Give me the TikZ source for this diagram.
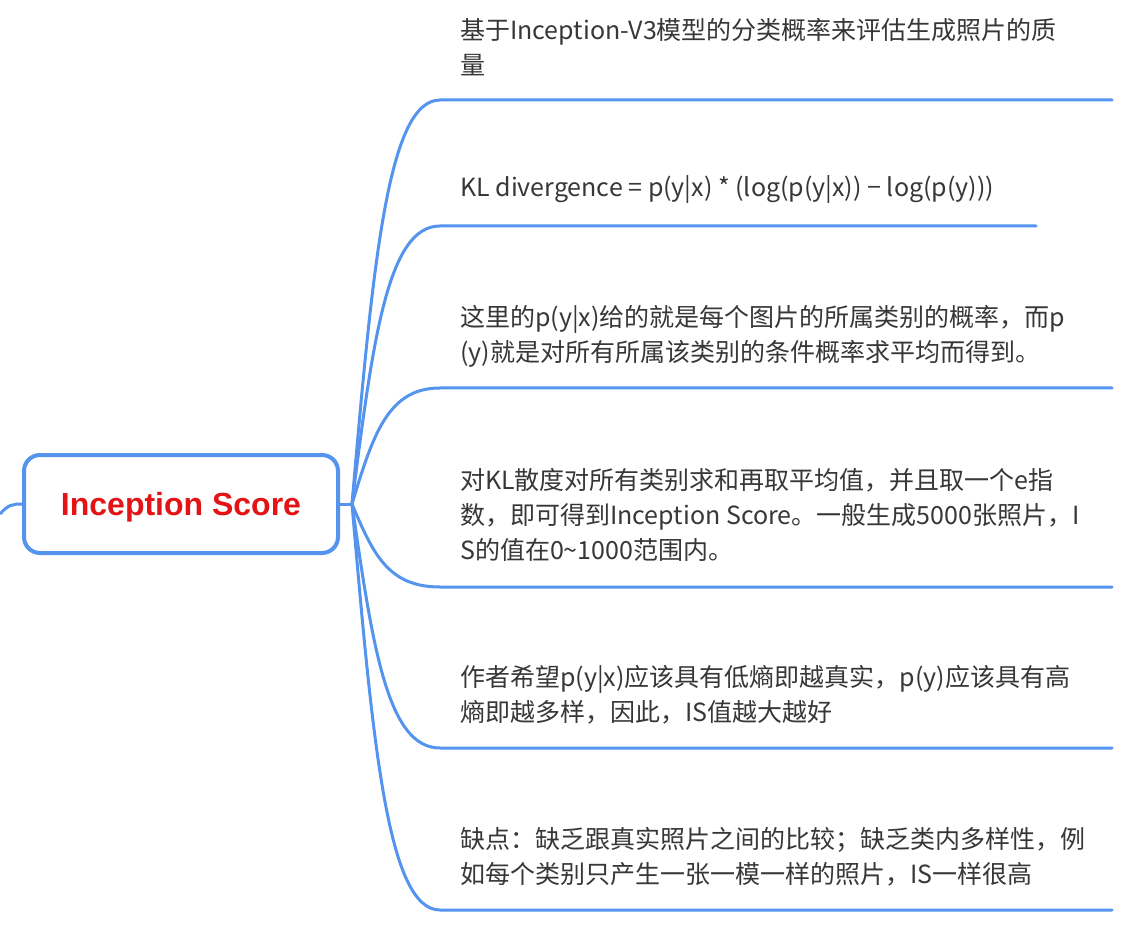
\documentclass[tikz,border=0pt]{standalone}
\usepackage{fontspec}
\setmainfont{Noto Sans CJK SC}
\newfontfamily\rootfont{Liberation Sans}
\definecolor{branchblue}{RGB}{84,148,238}
\definecolor{rootred}{RGB}{226,20,22}
\definecolor{txtgray}{RGB}{55,55,55}
\tikzset{
  branch/.style={draw=branchblue, line width=3pt, line cap=round},
  rootbox/.style={draw=branchblue, line width=4pt, rounded corners=16pt, fill=white,
    minimum width=314pt, minimum height=98pt, inner sep=0pt, text depth=0pt,
    font=\rootfont\bfseries\fontsize{32}{38}\selectfont, text=rootred},
  topic/.style={anchor=west, align=left, inner sep=0pt, text=txtgray,
    font=\fontsize{25}{35}\selectfont}
}
\begin{document}
\begin{tikzpicture}[x=1pt,y=-1pt]
\useasboundingbox[fill=white] (0,0) rectangle (1136,925);

% root
\node[rootbox] (root) at (181,504) {Inception Score};
\coordinate (parent) at (0,514);
\draw[branch, line cap=butt] (parent) .. controls (8,505) and (12,504) .. (root.west);

\coordinate (fork) at (352,504);
\draw[branch] (root.east) -- (fork);

% branch endpoints
\foreach \i/\y/\xe in {1/100/1112, 2/226/1036, 3/388/1112, 4/587/1112, 5/748/1112, 6/910/1112}{
  \coordinate (s\i) at (440,\y);
  \coordinate (e\i) at (\xe,\y);
}

% curves
\foreach \i/\y in {1/100, 2/226, 3/388, 4/587, 5/748, 6/910}{
  \pgfmathsetmacro{\cy}{504+(\y-504)*0.6}
  \draw[branch] (fork) .. controls (373,\cy) and (388,\y) .. (s\i) -- (e\i);
}

% texts
\node[topic] (t1) at (460,47) {基于Inception-V3模型的分类概率来评估生成照片的质\\量};
\node[topic] (t2) at (460,190) {KL divergence = p(y|x) * (log(p(y|x)) − log(p(y)))};
\node[topic] (t3) at (460,336) {这里的p(y|x)给的就是每个图片的所属类别的概率，而p\\(y)就是对所有所属该类别的条件概率求平均而得到。};
\node[topic] (t4) at (460,515) {对KL散度对所有类别求和再取平均值，并且取一个e指\\数，即可得到Inception Score。一般生成5000张照片，I\\S的值在0\textasciitilde 1000范围内。};
\node[topic] (t5) at (460,695) {作者希望p(y|x)应该具有低熵即越真实，p(y)应该具有高\\熵即越多样，因此，IS值越大越好};
\node[topic] (t6) at (460,857) {缺点：缺乏跟真实照片之间的比较；缺乏类内多样性，例\\如每个类别只产生一张一模一样的照片，IS一样很高};
\end{tikzpicture}
\end{document}
